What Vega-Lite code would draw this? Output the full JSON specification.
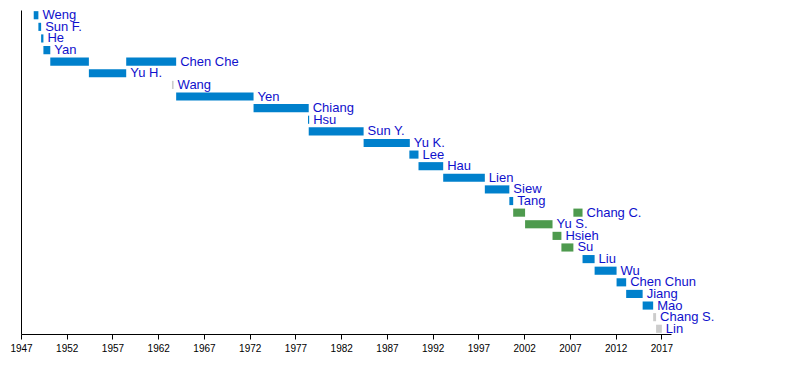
{
  "$schema": "https://vega.github.io/schema/vega-lite/v6.json",
  "autosize": {"type": "none"},
  "padding": {"left": 21, "top": 10, "right": 129, "bottom": 50},
  "width": 650,
  "height": 324,
  "background": "white",
  "config": {"view": {"stroke": null}},
  "data": {"values": [
    {"row": 1, "name": "Weng", "start": 1948.39, "end": 1948.9, "party": "blue"},
    {"row": 2, "name": "Sun F.", "start": 1948.9, "end": 1949.2, "party": "blue"},
    {"row": 3, "name": "He", "start": 1949.2, "end": 1949.45, "party": "blue"},
    {"row": 4, "name": "Yan", "start": 1949.45, "end": 1950.2, "party": "blue"},
    {"row": 5, "name": "Chen Che", "start": 1950.2, "end": 1954.42, "party": "blue"},
    {"row": 6, "name": "Yu H.", "start": 1954.42, "end": 1958.5, "party": "blue"},
    {"row": 5, "name": "Chen Che", "start": 1958.5, "end": 1963.96, "party": "blue"},
    {"row": 7, "name": "Wang", "start": 1963.5, "end": 1963.68, "party": "grey"},
    {"row": 8, "name": "Yen", "start": 1963.96, "end": 1972.42, "party": "blue"},
    {"row": 9, "name": "Chiang", "start": 1972.42, "end": 1978.45, "party": "blue"},
    {"row": 10, "name": "Hsu", "start": 1978.37, "end": 1978.5, "party": "blue"},
    {"row": 11, "name": "Sun Y.", "start": 1978.45, "end": 1984.45, "party": "blue"},
    {"row": 12, "name": "Yu K.", "start": 1984.45, "end": 1989.5, "party": "blue"},
    {"row": 13, "name": "Lee", "start": 1989.45, "end": 1990.45, "party": "blue"},
    {"row": 14, "name": "Hau", "start": 1990.45, "end": 1993.15, "party": "blue"},
    {"row": 15, "name": "Lien", "start": 1993.15, "end": 1997.7, "party": "blue"},
    {"row": 16, "name": "Siew", "start": 1997.7, "end": 2000.38, "party": "blue"},
    {"row": 17, "name": "Tang", "start": 2000.38, "end": 2000.8, "party": "blue"},
    {"row": 18, "name": "Chang C.", "start": 2000.8, "end": 2002.1, "party": "green"},
    {"row": 19, "name": "Yu S.", "start": 2002.1, "end": 2005.1, "party": "green"},
    {"row": 20, "name": "Hsieh", "start": 2005.1, "end": 2006.07, "party": "green"},
    {"row": 21, "name": "Su", "start": 2006.07, "end": 2007.38, "party": "green"},
    {"row": 18, "name": "Chang C.", "start": 2007.38, "end": 2008.38, "party": "green"},
    {"row": 22, "name": "Liu", "start": 2008.38, "end": 2009.7, "party": "blue"},
    {"row": 23, "name": "Wu", "start": 2009.7, "end": 2012.1, "party": "blue"},
    {"row": 24, "name": "Chen Chun", "start": 2012.1, "end": 2013.15, "party": "blue"},
    {"row": 25, "name": "Jiang", "start": 2013.15, "end": 2014.95, "party": "blue"},
    {"row": 26, "name": "Mao", "start": 2014.95, "end": 2016.1, "party": "blue"},
    {"row": 27, "name": "Chang S.", "start": 2016.1, "end": 2016.42, "party": "grey"},
    {"row": 28, "name": "Lin", "start": 2016.42, "end": 2017.05, "party": "grey"}
  ]},
  "encoding": {
    "y": {
      "field": "row",
      "type": "ordinal",
      "scale": {"paddingInner": 0.3, "paddingOuter": 0.1},
      "axis": {"labels": false, "ticks": false, "domain": true, "domainColor": "#000000", "domainWidth": 1, "title": null, "grid": false}
    }
  },
  "layer": [
    {
      "mark": {"type": "bar", "cornerRadius": 0},
      "encoding": {
        "x": {
          "field": "start",
          "type": "quantitative",
          "scale": {"domain": [1947, 2018.05], "nice": false, "zero": false},
          "axis": {
            "values": [1947, 1952, 1957, 1962, 1967, 1972, 1977, 1982, 1987, 1992, 1997, 2002, 2007, 2012, 2017],
            "format": "d",
            "title": null,
            "grid": false,
            "domainColor": "#000000",
            "tickColor": "#000000",
            "tickSize": 5,
            "labelColor": "#000000",
            "labelFont": "Liberation Sans",
            "labelFontSize": 10,
            "labelPadding": 4,
            "labelFlush": false
          }
        },
        "x2": {"field": "end"},
        "color": {
          "field": "party",
          "type": "nominal",
          "scale": {"domain": ["blue", "green", "grey"], "range": ["#0080CC", "#4E9A4E", "#CCCCCC"]},
          "legend": null
        }
      }
    },
    {
      "transform": [
        {"aggregate": [{"op": "max", "field": "end", "as": "end"}], "groupby": ["row", "name"]}
      ],
      "mark": {"type": "text", "align": "left", "baseline": "middle", "dx": 4, "dy": 0, "font": "Liberation Sans", "fontSize": 13, "color": "#1010CC"},
      "encoding": {
        "x": {"field": "end", "type": "quantitative"},
        "text": {"field": "name"}
      }
    }
  ]
}
